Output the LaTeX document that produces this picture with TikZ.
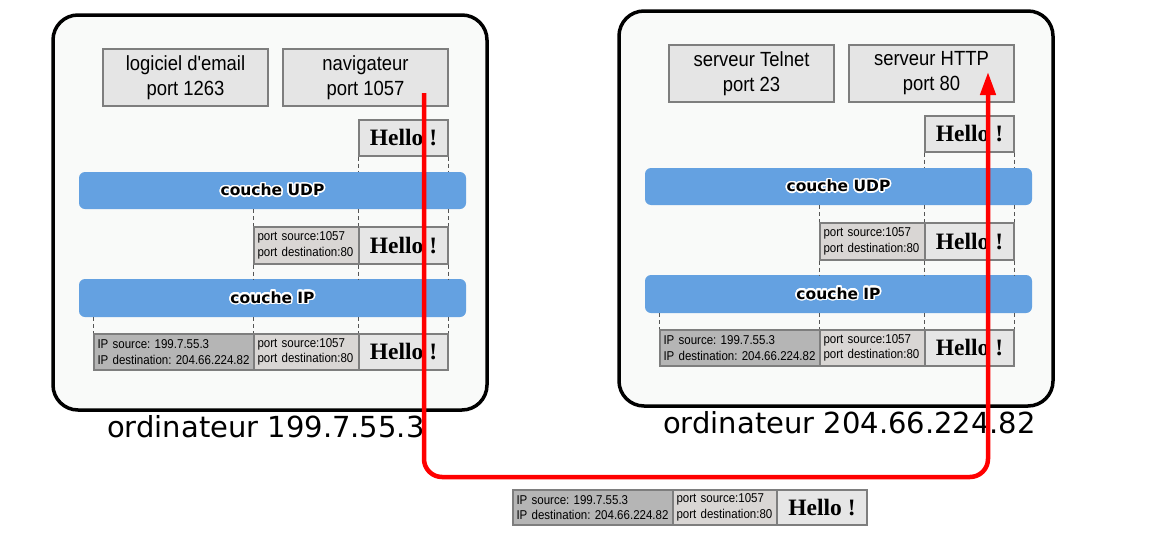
\documentclass[tikz,border=0pt]{standalone}
\usepackage{fontspec}
\setmainfont{Liberation Sans}[Ligatures=TeXOff, FakeStretch=0.9]
\newfontfamily\dejavu{DejaVu Sans}
\newfontfamily\serifb{Liberation Serif}
\usepackage{contour}
\contourlength{1.5pt}
\contournumber{24}
\usetikzlibrary{arrows.meta}
\frenchspacing
\definecolor{panelfill}{HTML}{F9FAF9}
\definecolor{boxline}{HTML}{7E7E7E}
\definecolor{appfill}{HTML}{E5E5E5}
\definecolor{hellofill}{HTML}{E6E6E6}
\definecolor{portfill}{HTML}{D9D6D4}
\definecolor{ipfill}{HTML}{B5B5B5}
\definecolor{barblue}{HTML}{64A1E1}
\definecolor{dashcol}{HTML}{555555}
\begin{document}
\begin{tikzpicture}[x=1pt,y=-1pt,
  panel/.style={draw=black, line width=3.5pt, fill=panelfill, rounded corners=25pt, inner sep=0pt},
  appbox/.style={draw=boxline, line width=1.2pt, fill=appfill, inner sep=0pt, align=center,
    minimum width=165pt, minimum height=57pt, font=\fontsize{20.5}{25}\selectfont},
  hellobox/.style={draw=boxline, line width=1.2pt, fill=hellofill, inner sep=0pt,
    minimum width=89pt, font=\serifb\bfseries\fontsize{23.5}{24}\selectfont},
  portbox/.style={draw=boxline, line width=1.2pt, fill=portfill, inner xsep=3.5pt, inner ysep=0pt,
    text width=98pt, align=left, font=\fontsize{12.8}{15.5}\selectfont},
  ipbox/.style={draw=boxline, line width=1.2pt, fill=ipfill, inner xsep=3.5pt, inner ysep=0pt,
    text width=153pt, align=left, font=\fontsize{12.8}{15.5}\selectfont},
  layerbar/.style={fill=barblue, rounded corners=6pt, inner sep=0pt, minimum width=387pt,
    font=\dejavu\bfseries\fontsize{15.5}{16}\selectfont},
  dashline/.style={draw=dashcol, line width=0.8pt, dash pattern=on 4pt off 3pt},
  complabel/.style={anchor=base west, inner sep=0pt, font=\dejavu\fontsize{29}{30}\selectfont},
  redline/.style={draw=red, line width=4.5pt, rounded corners=18pt, -{Triangle[length=23pt,width=15pt]}}
]
\useasboundingbox (0,0) rectangle (1168,533);

\foreach \side/\dx/\dy/\appA/\appB/\lab/\lx in {%
  L/0/0/{logiciel d'email\\port 1263}/{navigateur\\port 1057}/{ordinateur 199.7.55.3}/107,%
  R/566/-4/{serveur Telnet\\port 23}/{serveur HTTP\\port 80}/{ordinateur 204.66.224.82}/97}{
\begin{scope}[shift={(\dx,\dy)}]
  \node[panel, minimum width=434pt, minimum height=395pt] (\side panel) at (270,212.5) {};
  \node[appbox] (\side app1) at (185.5,77.5) {\appA};
  \node[appbox] (\side app2) at (365.5,77.5) {\appB};
  \node[hellobox, minimum height=36pt] (\side hello1) at (403.5,138) {Hello !};
  \node[layerbar, minimum height=37pt] (\side udp) at (272.5,190.5) {\contour{white}{couche UDP}};
  \node[portbox, minimum height=37pt] (\side port2) at (306.5,245.5) {port source:1057\\port destination:80};
  \node[hellobox, minimum height=37pt] (\side hello2) at (403.5,245.5) {Hello !};
  \node[layerbar, minimum height=38pt] (\side ip) at (272.5,298) {\contour{white}{couche IP}};
  \node[ipbox, minimum height=36pt] (\side ip3) at (174,352) {IP source: 199.7.55.3\\IP destination: 204.66.224.82};
  \node[portbox, minimum height=36pt] (\side port3) at (306.5,352) {port source:1057\\port destination:80};
  \node[hellobox, minimum height=36pt] (\side hello3) at (403.5,352) {Hello !};
  % dashed guides
  \draw[dashline] (\side hello1.south west) -- (\side hello1.south west |- \side udp.north);
  \draw[dashline] (\side hello1.south east) -- (\side hello1.south east |- \side udp.north);
  \draw[dashline] (\side port2.north west |- \side udp.south) -- (\side port2.north west);
  \draw[dashline] (\side hello2.north west |- \side udp.south) -- (\side hello2.north west);
  \draw[dashline] (\side hello2.north east |- \side udp.south) -- (\side hello2.north east);
  \draw[dashline] (\side port2.south west) -- (\side port2.south west |- \side ip.north);
  \draw[dashline] (\side hello2.south west) -- (\side hello2.south west |- \side ip.north);
  \draw[dashline] (\side hello2.south east) -- (\side hello2.south east |- \side ip.north);
  \draw[dashline] (\side ip3.north west |- \side ip.south) -- (\side ip3.north west);
  \draw[dashline] (\side port3.north west |- \side ip.south) -- (\side port3.north west);
  \draw[dashline] (\side hello3.north west |- \side ip.south) -- (\side hello3.north west);
  \draw[dashline] (\side hello3.north east |- \side ip.south) -- (\side hello3.north east);
  \node[complabel] (\side label) at (\lx,437) {\lab};
\end{scope}
}

% packet on the wire
\node[ipbox, minimum height=35pt] (wip) at (593,507.5) {IP source: 199.7.55.3\\IP destination: 204.66.224.82};
\node[portbox, text width=97pt, minimum height=35pt] (wport) at (725,507.5) {port source:1057\\port destination:80};
\node[hellobox, minimum width=90pt, minimum height=35pt] (whello) at (822,507.5) {Hello !};

% red route
\coordinate (rstart) at (424,93);
\coordinate (rbottom) at (700,477);
\coordinate (rend) at (988,72);
\draw[redline] (rstart) |- (rbottom) -| (rend);
\end{tikzpicture}
\end{document}
